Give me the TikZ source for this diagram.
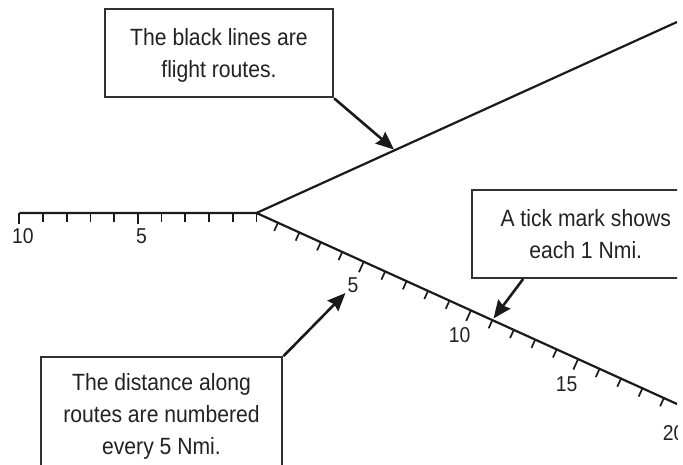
\documentclass[tikz,border=0pt]{standalone}
\usepackage{fontspec}
\setmainfont[FakeStretch=0.9]{Liberation Sans}
\usetikzlibrary{arrows.meta,calc}
\definecolor{ink}{HTML}{1A1A1A}
\definecolor{txt}{HTML}{222222}
\begin{document}
\begin{tikzpicture}[x=1pt,y=-1pt,
  route/.style={draw=ink, line width=2.2pt},
  tickmark/.style={draw=ink, line width=1.7pt},
  callout/.style={draw=ink!90, line width=2.2pt, fill=white, align=center, text=txt,
    font=\fontsize{23.5}{32}\selectfont, inner sep=0pt, anchor=base,
    text height=68.4pt, text depth=19.5pt},
  pointer/.style={draw=ink, line width=2.6pt, -{Stealth[length=18pt,width=15pt,inset=2pt]}},
  numlabel/.style={text=txt, font=\fontsize{21.5}{24}\selectfont, inner sep=0pt}]
\useasboundingbox (0,0) rectangle (683,464);
\begin{scope}
\clip (0,0) rectangle (677,464);
\coordinate (O) at (256.5,213);
\coordinate (H) at (19.3,213);
\coordinate (U) at (677,22);
\coordinate (L) at (677,404);
\draw[route] (H) -- (O) -- (U);
\draw[route] (O) -- (L);
% ticks on the horizontal route
\foreach \k in {0,1,2,3,4,6,7,8,9}
  \draw[tickmark] ($(O)+(-23.72*\k,0)$) -- ++(0,9);
\foreach \k in {5,10}
  \draw[tickmark] ($(O)+(-23.72*\k,0)$) -- ++(0,11);
\node[numlabel] (h10) at (23,236) {10};
\node[numlabel] (h5) at (141.5,236) {5};
% ticks on the lower route
\begin{scope}[shift={(O)}, rotate=-24.43]
\foreach \k in {1,2,3,4,6,7,8,9,11,12,13,14,16,17,18,19}
  \draw[tickmark] (\k*23.55,0) -- (\k*23.55,9);
\foreach \k in {5,10,15}
  \draw[tickmark] (\k*23.55,0) -- (\k*23.55,11.5);
\node[numlabel] (l5) at (5*23.55,26) {5};
\node[numlabel] (l10) at (10*23.55,27) {10};
\node[numlabel] (l15) at (15*23.55,28) {15};
\node[numlabel] (l20) at (20*23.55,28) {20};
\end{scope}
% callouts
\node[callout, minimum width=228pt] (b1) at (219,77.7) {The black lines are\\flight routes.};
\node[callout, minimum width=228pt] (b2) at (585.7,258.3) {A tick mark shows\\each 1 Nmi.};
\node[callout, minimum width=241.6pt, text height=97.2pt, text depth=22pt] (b3) at (161.5,454.5)
  {The distance along\\routes are numbered\\every 5 Nmi.};
\coordinate (T1) at (394,149.5);
\coordinate (S2) at ($(b2.south west)+(52.6,0)$);
\coordinate (T2) at (493.5,318.5);
\coordinate (T3) at (345.5,293);
\draw[pointer] (b1.south east) -- (T1);
\draw[pointer] (S2) -- (T2);
\draw[pointer] (b3.north east) -- (T3);
\end{scope}
\end{tikzpicture}
\end{document}
